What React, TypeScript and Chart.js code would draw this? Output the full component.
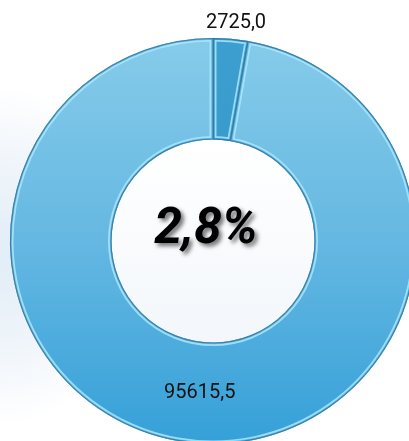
import React, { useEffect, useRef } from "react";
import { Chart, registerables } from "chart.js";

Chart.register(...registerables);

const categories = ["Доля", "Остальное"];
const values = [2725.0, 95615.5];
const valueLabels = ["2725,0", "95615,5"];
const centerText = "2,8%";

const fmtPath = (ctx: CanvasRenderingContext2D, a: any, inset: number) => {
  ctx.beginPath();
  ctx.arc(a.x, a.y, a.outerRadius - inset, a.startAngle, a.endAngle);
  ctx.arc(a.x, a.y, a.innerRadius + inset, a.endAngle, a.startAngle, true);
  ctx.closePath();
};

const bevelPlugin = {
  id: "bevel",
  beforeDatasetsDraw(chart: any) {
    const ctx = chart.ctx as CanvasRenderingContext2D;
    const el = chart.getDatasetMeta(0).data[0];
    if (!el) return;
    const a = el.getProps(["x", "y", "innerRadius"], true);
    ctx.save();
    const g = ctx.createLinearGradient(0, a.y - a.innerRadius, 0, a.y + a.innerRadius);
    g.addColorStop(0, "#ffffff");
    g.addColorStop(1, "#f3f7fb");
    ctx.fillStyle = g;
    ctx.beginPath();
    ctx.arc(a.x, a.y, a.innerRadius + 1, 0, Math.PI * 2);
    ctx.fill();
    ctx.restore();
  },
  afterDatasetsDraw(chart: any) {
    const ctx = chart.ctx as CanvasRenderingContext2D;
    const meta = chart.getDatasetMeta(0);
    meta.data.forEach((el: any, i: number) => {
      const a = el.getProps(["x", "y", "startAngle", "endAngle", "innerRadius", "outerRadius"], true);
      ctx.save();
      fmtPath(ctx, a, 0);
      ctx.clip();
      ctx.lineJoin = "miter";
      ctx.strokeStyle = "rgba(170,232,252,0.85)";
      ctx.lineWidth = 7;
      fmtPath(ctx, a, 0);
      ctx.stroke();
      ctx.strokeStyle = i === 0 ? "rgba(60,160,205,1)" : "rgba(100,180,222,0.9)";
      ctx.lineWidth = 3.5;
      fmtPath(ctx, a, 0);
      ctx.stroke();
      ctx.restore();
      ctx.save();
      ctx.strokeStyle = "rgba(45,110,150,0.75)";
      ctx.lineWidth = 1.2;
      fmtPath(ctx, a, 0.5);
      ctx.stroke();
      ctx.restore();
    });
  },
  afterDraw(chart: any) {
    const ctx = chart.ctx as CanvasRenderingContext2D;
    const meta = chart.getDatasetMeta(0);
    ctx.save();
    ctx.font = "20px Roboto";
    ctx.fillStyle = "#111";
    ctx.textAlign = "center";
    ctx.textBaseline = "middle";
    meta.data.forEach((el: any, i: number) => {
      const a = el.getProps(["x", "y", "startAngle", "endAngle", "innerRadius", "outerRadius"], true);
      const mid = (a.startAngle + a.endAngle) / 2;
      const r = i === 0 ? a.outerRadius + 16 : (a.innerRadius + a.outerRadius) / 2;
      const dx = i === 0 ? 4 : 0;
      ctx.fillText(valueLabels[i], a.x + Math.cos(mid) * r + dx, a.y + Math.sin(mid) * r);
    });
    const c = meta.data[0];
    ctx.font = "italic bold 50px Roboto";
    ctx.shadowColor = "rgba(0,0,0,0.55)";
    ctx.shadowBlur = 4;
    ctx.shadowOffsetX = 3;
    ctx.shadowOffsetY = 3;
    ctx.fillStyle = "#000";
    ctx.fillText(centerText, c.x - 7, c.y - 11);
    ctx.restore();
  },
};

export default function App() {
  const ref = useRef<HTMLCanvasElement>(null);
  useEffect(() => {
    if (!ref.current) return;
    const chart = new Chart(ref.current, {
      type: "doughnut",
      data: {
        labels: categories,
        datasets: [
          {
            data: values,
            backgroundColor: (ctx: any) => {
              const { chart } = ctx;
              const area = chart.chartArea;
              if (!area) return ctx.dataIndex === 0 ? "#3a9fd0" : "#6cbce4";
              const g = chart.ctx.createLinearGradient(0, area.top, 0, area.bottom);
              if (ctx.dataIndex === 0) {
                g.addColorStop(0, "#3d9fd0");
                g.addColorStop(1, "#2f8fc2");
              } else {
                g.addColorStop(0, "#86cbea");
                g.addColorStop(0.5, "#65b8e2");
                g.addColorStop(1, "#35a0d8");
              }
              return g;
            },
            borderWidth: 0,
          },
        ],
      },
      options: {
        animation: false,
        responsive: true,
        maintainAspectRatio: false,
        cutout: "50%",
        layout: { padding: { top: 38, bottom: 38, left: 10, right: 10 } },
        plugins: { legend: { display: false }, tooltip: { enabled: false } },
      },
      plugins: [bevelPlugin],
    });
    return () => chart.destroy();
  }, []);
  return (
    <div
      style={{
        position: "absolute",
        left: 0,
        top: 0,
        width: 409,
        height: 441,
        overflow: "hidden",
        background:
          "radial-gradient(ellipse 140px 170px at 0% 58%, #e2edf7 0%, #eef4fa 50%, #ffffff 100%)",
      }}
    >
      <div style={{ position: "absolute", left: 0, top: 0, width: 426, height: 482 }}>
        <canvas ref={ref} />
      </div>
    </div>
  );
}
